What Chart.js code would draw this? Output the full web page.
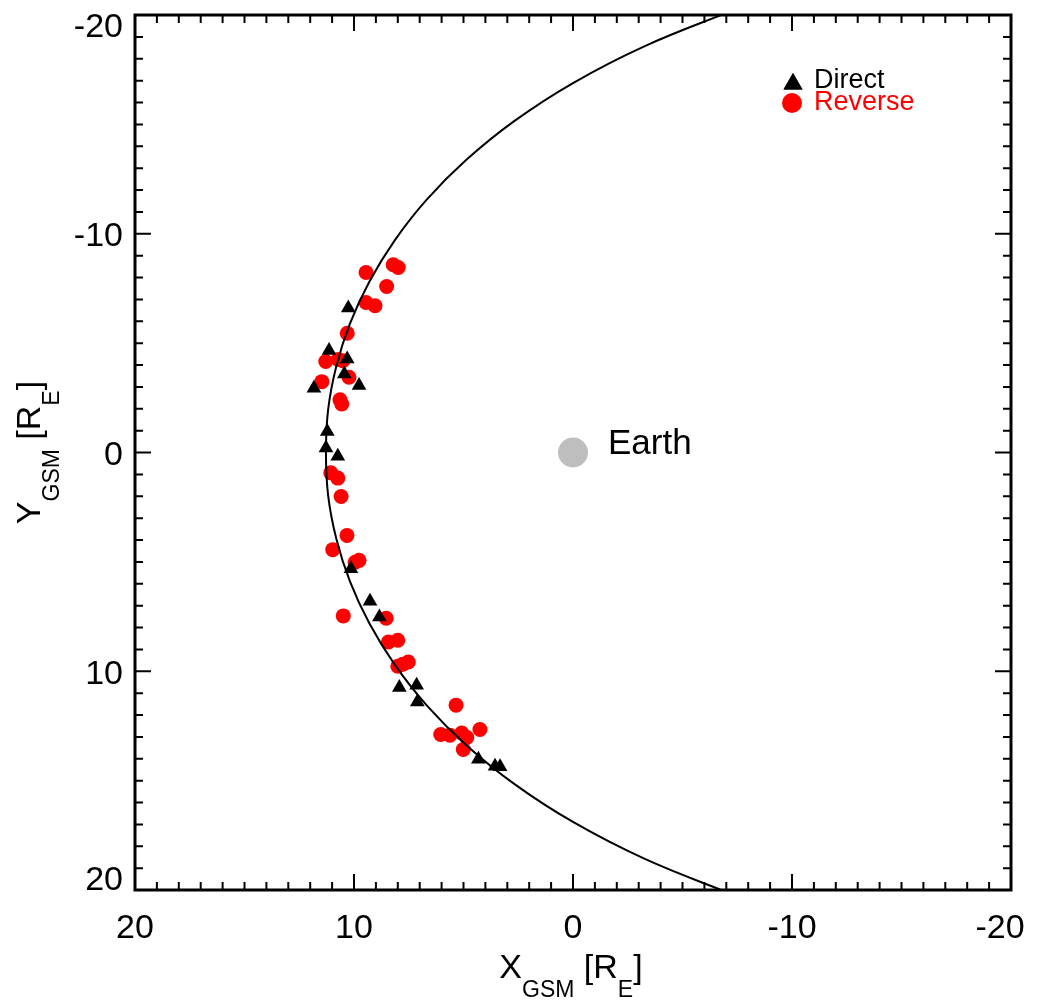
<!DOCTYPE html>
<html>
<head>
<meta charset="utf-8">
<script src="https://cdn.jsdelivr.net/npm/chart.js@4.4.1/dist/chart.umd.min.js"></script>
<style>
  html, body { margin: 0; padding: 0; background: #fff; }
  #wrap { width: 1046px; height: 1003px; position: relative; }
</style>
</head>
<body>
<div id="wrap"><canvas id="mpChart"></canvas></div>
<script>
// crossings (X_GSM, Y_GSM in R_E)
const directX = [10.26, 11.14, 10.31, 10.44, 9.77, 11.83, 11.22, 11.28, 10.74,
  10.14, 9.27, 8.84, 7.93, 7.14, 7.11, 4.32, 3.56, 3.33];
const directY = [-6.61, -4.66, -4.28, -3.59, -3.06, -2.94, -0.96, -0.21, 0.17,
  5.31, 6.80, 7.52, 10.74, 10.64, 11.40, 14.02, 14.34, 14.37];

const reverseX = [9.45, 8.21, 7.98, 8.51, 9.45, 9.04, 10.31, 11.29, 10.72, 10.51,
  10.23, 11.47, 10.64, 10.56, 11.06, 10.74, 10.59, 10.32, 10.97, 9.95, 9.77,
  10.49, 8.53, 8.43, 8.00, 8.00, 7.52, 7.77, 5.34, 6.04, 5.62, 5.08, 4.85, 5.01, 4.25];
const reverseY = [-8.23, -8.58, -8.46, -7.59, -6.86, -6.71, -5.45, -4.16, -4.25, -4.20,
  -3.44, -3.24, -2.41, -2.22, 0.93, 1.17, 2.01, 3.79, 4.44, 5.02, 4.93,
  7.47, 7.58, 8.66, 8.58, 9.77, 9.58, 9.68, 11.55, 12.89, 12.92, 12.82, 13.03, 13.58, 12.66];

// magnetopause boundary line
const curveX = [-7.37, -3.28, 0.00, 2.67, 4.87, 6.68, 8.14, 9.30, 10.19, 10.81, 11.18, 11.28,
  11.18, 10.81, 10.19, 9.30, 8.14, 6.68, 4.87, 2.67, 0.00, -3.28, -7.37];
const curveY = [-20.24, -18.58, -16.89, -15.16, -13.38, -11.56, -9.70, -7.81, -5.88, -3.93, -1.97, 0.00,
  1.97, 3.93, 5.88, 7.81, 9.70, 11.56, 13.38, 15.16, 16.89, 18.58, 20.24];

const earthX = [0];
const earthY = [0];

const tickValues = [20, 10, 0, -10, -20];
const tickLabels = ['20', '10', '0', '-10', '-20'];

const FONT = '"Liberation Sans", Arial, Helvetica, sans-serif';

function pts(xs, ys) {
  return xs.map((x, i) => ({ x: x, y: ys[i] }));
}

const framePlugin = {
  id: 'frame',
  afterDraw(chart) {
    const ctx = chart.ctx;
    const a = chart.chartArea;
    const xs = chart.scales.x;
    const ys = chart.scales.y;
    ctx.save();

    // ticks pointing inward on all four sides
    ctx.strokeStyle = '#000';
    ctx.lineWidth = 2;
    ctx.beginPath();
    for (let v = -20; v <= 20; v++) {
      const len = (v % 10 === 0) ? 16 : 8;
      const px = xs.getPixelForValue(v);
      ctx.moveTo(px, a.bottom); ctx.lineTo(px, a.bottom - len);
      ctx.moveTo(px, a.top); ctx.lineTo(px, a.top + len);
      const py = ys.getPixelForValue(v);
      ctx.moveTo(a.left, py); ctx.lineTo(a.left + len, py);
      ctx.moveTo(a.right, py); ctx.lineTo(a.right - len, py);
    }
    ctx.stroke();

    ctx.lineWidth = 3;
    ctx.strokeRect(a.left, a.top, a.right - a.left, a.bottom - a.top);

    // tick labels
    ctx.fillStyle = '#000';
    ctx.font = '34px ' + FONT;
    ctx.textBaseline = 'alphabetic';
    tickValues.forEach((v, i) => {
      let px = xs.getPixelForValue(v);
      px = Math.min(px, a.right - 11);
      ctx.textAlign = 'center';
      ctx.fillText(tickLabels[i], px, a.bottom + 48);

      let py = ys.getPixelForValue(v) + 12.5;
      py = Math.min(Math.max(py, a.top + 22), a.bottom);
      ctx.textAlign = 'right';
      ctx.fillText(tickLabels[i], a.left - 12, py);
    });

    // axis titles with subscripts
    const parts = [
      { t: 'X', sub: false }, { t: 'GSM', sub: true }, { t: ' [R', sub: false },
      { t: 'E', sub: true }, { t: ']', sub: false }
    ];
    function title(letter) {
      parts[0].t = letter;
      let w = 0;
      parts.forEach(p => {
        ctx.font = (p.sub ? '23px ' : '34px ') + FONT;
        p.w = ctx.measureText(p.t).width;
        w += p.w;
      });
      let x = -w / 2;
      ctx.textAlign = 'left';
      parts.forEach(p => {
        ctx.font = (p.sub ? '23px ' : '34px ') + FONT;
        ctx.fillText(p.t, x, p.sub ? 19 : 0);
        x += p.w;
      });
    }
    ctx.save();
    ctx.translate((a.left + a.right) / 2 - 2, 978);
    title('X');
    ctx.restore();
    ctx.save();
    ctx.translate(40, (a.top + a.bottom) / 2);
    ctx.rotate(-Math.PI / 2);
    title('Y');
    ctx.restore();

    // Earth label
    ctx.font = '35px ' + FONT;
    ctx.textAlign = 'left';
    ctx.fillStyle = '#000';
    ctx.fillText('Earth', xs.getPixelForValue(earthX[0]) + 35, ys.getPixelForValue(earthY[0]) + 1);

    // legend
    Chart.helpers.drawPoint(ctx, { pointStyle: 'triangle', radius: 11, borderWidth: 0 }, 793, 84);
    ctx.fillStyle = '#000';
    ctx.fill();
    ctx.beginPath();
    ctx.arc(792, 103, 10, 0, Math.PI * 2);
    ctx.fillStyle = '#ff0000';
    ctx.fill();
    ctx.font = '27px ' + FONT;
    ctx.fillStyle = '#000';
    ctx.fillText('Direct', 814, 88);
    ctx.fillStyle = '#ff0000';
    ctx.fillText('Reverse', 814, 110);

    ctx.restore();
  }
};

const mp_chart = document.getElementById('mpChart');
new Chart(mp_chart, {
  type: 'scatter',
  data: {
    datasets: [
      {
        label: 'Magnetopause',
        data: pts(curveX, curveY),
        showLine: true,
        borderColor: '#000',
        borderWidth: 2,
        pointRadius: 0,
        tension: 0.4,
        fill: false,
        clip: 0
      },
      {
        label: 'Direct',
        data: pts(directX, directY),
        pointStyle: 'triangle',
        pointRadius: 8.5,
        pointBackgroundColor: '#000',
        pointBorderColor: '#000',
        pointBorderWidth: 0
      },
      {
        label: 'Reverse',
        data: pts(reverseX, reverseY),
        pointStyle: 'circle',
        pointRadius: 7.5,
        pointBackgroundColor: '#ff0000',
        pointBorderColor: '#ff0000',
        pointBorderWidth: 0
      },
      {
        label: 'Earth',
        data: pts(earthX, earthY),
        pointStyle: 'circle',
        pointRadius: 15,
        pointBackgroundColor: '#bebebe',
        pointBorderColor: '#bebebe',
        pointBorderWidth: 0
      }
    ]
  },
  options: {
    responsive: true,
    maintainAspectRatio: false,
    animation: false,
    layout: { padding: { left: 135, top: 14, right: 35, bottom: 113 } },
    plugins: {
      legend: { display: false },
      tooltip: { enabled: false }
    },
    scales: {
      x: { type: 'linear', min: -20, max: 20, reverse: true, display: false },
      y: { type: 'linear', min: -20, max: 20, reverse: true, display: false }
    }
  },
  plugins: [framePlugin]
});
</script>
</body>
</html>
